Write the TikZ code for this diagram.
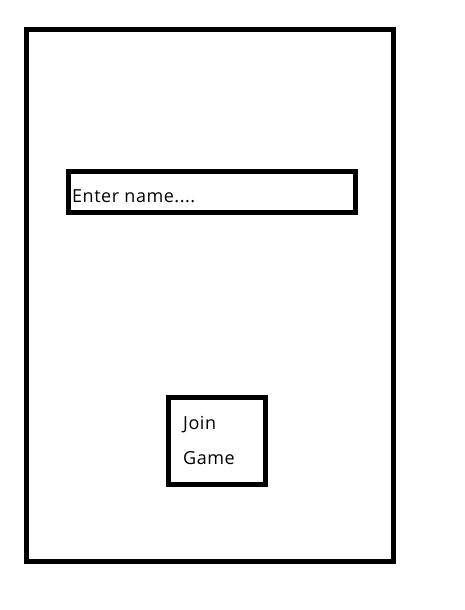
\documentclass[tikz,border=0pt]{standalone}
\usepackage{fontspec}
\setmainfont[LetterSpace=3]{Open Sans}
\begin{document}
\begin{tikzpicture}[x=1pt,y=-1pt,
  frame/.style={draw=black,line width=5pt},
  lbl/.style={anchor=base west,inner sep=0pt,font=\fontsize{18}{20}\selectfont}]
\useasboundingbox (0,0) rectangle (464,610);
\draw[frame] (26.5,29.3) rectangle (393.5,561.5);
\draw[frame] (68.5,171.5) rectangle (355.5,212.5);
\node[lbl] (name) at (72,202) {Enter name....};
\draw[frame] (168.5,397.5) rectangle (265,484);
\node[lbl] (join) at (183,429) {Join};
\node[lbl] (game) at (183,464) {Game};
\end{tikzpicture}
\end{document}
